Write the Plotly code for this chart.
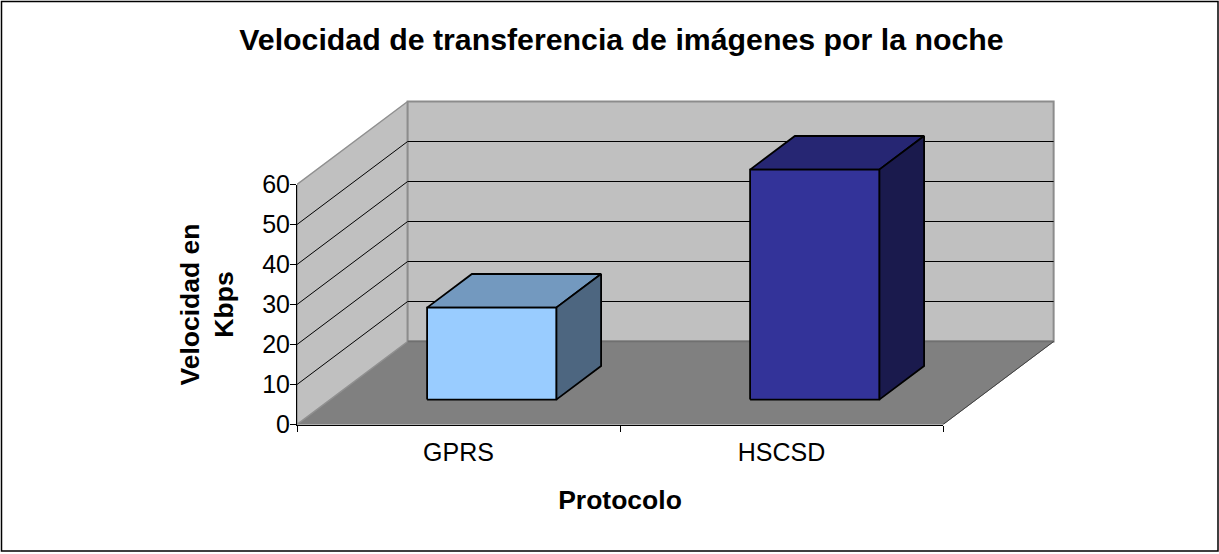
import plotly.graph_objects as go

# ---- data ----
categories = ["GPRS", "HSCSD"]
velocidad = [23, 57.5]
y_ticks = [0, 10, 20, 30, 40, 50, 60]
x_tick_marks = [0, 1, 2]
x_centres = [0.5, 1.5]

title_text = "Velocidad de transferencia de imágenes por la noche"
x_title = "Protocolo"
y_title = "Velocidad en<br>Kbps"

# ---- 3D look, in data units ----
DEPTH_X = 0.3425
DEPTH_Y = 20.75
BAR_WIDTH = 0.4
BAR_D0, BAR_D1 = 0.30, 0.705
front_cols = ["#99CCFF", "#333399"]
top_cols = ["#7399BF", "#262673"]
side_cols = ["#4D6680", "#1A1A4D"]

W, H = 1219, 554
L, R, T, B = 297, 149, 84, 129
PW, PH = W - L - R, H - T - B
LIFT = 0.5  # keeps 1 px lines on whole pixel rows
XMAX = PW / 323.0
YMAX = (PH - LIFT) / 4.0
font = "Liberation Sans, Arial, sans-serif"


def P(x, v, d=0.0):
    return x + d * DEPTH_X, v + d * DEPTH_Y


def poly(points, fill, line, width=1.0):
    xs = [p[0] for p in points] + [points[0][0]]
    ys = [p[1] for p in points] + [points[0][1]]
    return go.Scatter(x=xs, y=ys, mode="lines", fill="toself", fillcolor=fill,
                      line=dict(color=line, width=width), hoverinfo="skip", showlegend=False)


def path(points, color, width=1.0):
    return go.Scatter(x=[p[0] for p in points], y=[p[1] for p in points], mode="lines",
                      line=dict(color=color, width=width), hoverinfo="skip", showlegend=False)


fig = go.Figure()
top = y_ticks[-1]
n = len(categories)
# floor and walls
fig.add_trace(poly([P(0, 0), P(n, 0), P(n, 0, 1), P(0, 0, 1)], "#808080", "#808080"))
fig.add_trace(poly([P(0, 0), P(0, 0, 1), P(0, top, 1), P(0, top)], "#C0C0C0", "#909090", 1.5))
fig.add_trace(poly([P(0, 0, 1), P(n, 0, 1), P(n, top, 1), P(0, top, 1)], "#C0C0C0", "#8C8C8C", 2))
fig.add_trace(path([P(0, 0, 1), P(n, 0, 1)], "#707070", 2))
fig.add_trace(path([P(n, 0), P(n, 0, 1)], "#404040", 1))
# gridlines on both walls
for v in y_ticks[1:-1]:
    fig.add_trace(path([P(0, v), P(0, v, 1), P(n, v, 1)], "#000000", 1))
# bars
for i, v in enumerate(velocidad):
    x0 = i + (1 - BAR_WIDTH) / 2
    x1 = x0 + BAR_WIDTH
    fig.add_trace(poly([P(x0, v, BAR_D0), P(x1, v, BAR_D0), P(x1, v, BAR_D1), P(x0, v, BAR_D1)],
                       top_cols[i], "#000000", 1.8))
    fig.add_trace(poly([P(x1, 0, BAR_D0), P(x1, 0, BAR_D1), P(x1, v, BAR_D1), P(x1, v, BAR_D0)],
                       side_cols[i], "#000000", 1.8))
    fig.add_trace(poly([P(x0, 0, BAR_D0), P(x1, 0, BAR_D0), P(x1, v, BAR_D0), P(x0, v, BAR_D0)],
                       front_cols[i], "#000000", 1.8))
# subplot holding the visible axes (front plane)
fig.add_trace(go.Scatter(x=[0, n], y=[0, top], mode="none", xaxis="x2", yaxis="y2",
                         hoverinfo="skip", showlegend=False))

tick_font = dict(family=font, size=25, color="#000000")
title_font = dict(family=font, size=26.5, color="#000000", weight="bold")
fig.update_layout(
    width=W, height=H, autosize=False,
    margin=dict(l=L, r=R, t=T, b=B, pad=0),
    paper_bgcolor="#FFFFFF", plot_bgcolor="rgba(0,0,0,0)",
    showlegend=False,
    title=dict(text=title_text, x=621.5 / W, y=1 - 39 / H, xanchor="center", yanchor="middle",
               xref="container", yref="container",
               font=dict(family=font, size=30.3, color="#000000", weight="bold")),
    xaxis=dict(domain=[0, 1], range=[0, XMAX], visible=False, fixedrange=True),
    yaxis=dict(domain=[LIFT / PH, 1], range=[0, YMAX], visible=False, fixedrange=True),
    xaxis2=dict(domain=[0, n * 323.0 / PW], range=[0, n], anchor="y2",
                showgrid=False, zeroline=False, showline=True, linecolor="#000000", linewidth=1,
                tickmode="array", tickvals=x_centres, ticktext=categories, ticks="",
                tickfont=tick_font, ticklabelstandoff=5,
                minor=dict(tickmode="array", tickvals=x_tick_marks, ticks="outside",
                           ticklen=6, tickcolor="#000000", tickwidth=1, showgrid=False),
                title=dict(text=x_title, font=title_font, standoff=25), fixedrange=True),
    yaxis2=dict(domain=[LIFT / PH, (LIFT + top * 4.0) / PH], range=[0, top], anchor="x2",
                showgrid=False, zeroline=False, showline=True, linecolor="#000000", linewidth=1,
                tickmode="array", tickvals=y_ticks, ticks="outside", ticklen=6,
                tickcolor="#000000", tickwidth=1, tickfont=tick_font, ticklabelstandoff=-5,
                title=dict(text=y_title, font=title_font, standoff=20), fixedrange=True),
    shapes=[dict(type="rect", xref="paper", yref="paper", layer="below",
                 x0=(1.5 - L) / PW, x1=(W - 1.0 - L) / PW,
                 y0=(H - B - 551.0) / PH, y1=(H - B - 1.5) / PH,
                 line=dict(color="#000000", width=1.5), fillcolor="#FFFFFF")],
)

fig.write_html("out.html", config={"displayModeBar": False},
               post_script="document.body.style.margin='0';document.body.style.overflow='hidden';")
